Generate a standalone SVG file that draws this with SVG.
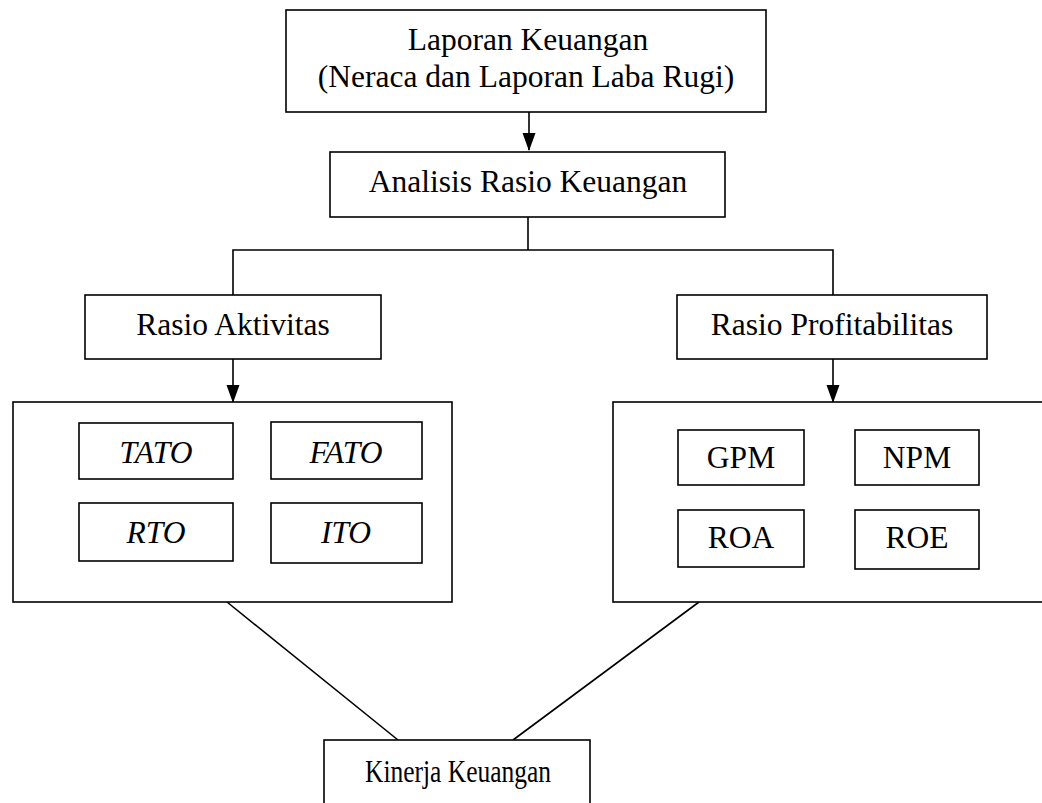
<svg xmlns="http://www.w3.org/2000/svg" width="1042" height="803" viewBox="0 0 1042 803">
<style>
rect{fill:#fff;stroke:#000;stroke-width:1.6}
text{font-family:"Liberation Serif","Times New Roman",serif;font-size:31.5px;fill:#000;text-anchor:middle}
.it{font-style:italic}
.c{fill:none;stroke:#000;stroke-width:1.6}
</style>
<g id="connectors">
<line class="c" x1="529" y1="112" x2="529" y2="150"/>
<path d="M522.5,133 L535.5,133 L529,151 Z" fill="#000"/>
<path class="c" d="M528,217 V250 M233,295 V250 H833 V295"/>
<line class="c" x1="233" y1="359" x2="233" y2="402"/>
<path d="M226.5,385 L239.5,385 L233,403 Z" fill="#000"/>
<line class="c" x1="833" y1="359" x2="833" y2="402"/>
<path d="M826.5,385 L839.5,385 L833,403 Z" fill="#000"/>
<line class="c" x1="227" y1="602" x2="398" y2="740"/>
<line class="c" x1="699" y1="602" x2="513" y2="740"/>
</g>
<g id="laporan">
<rect x="286" y="10" width="480" height="102"/>
<text x="528" y="50">Laporan Keuangan</text>
<text x="526" y="87">(Neraca dan Laporan Laba Rugi)</text>
</g>
<g id="analisis">
<rect x="330" y="152" width="395" height="65"/>
<text x="528" y="192">Analisis Rasio Keuangan</text>
</g>
<g id="aktivitas">
<rect x="85" y="295" width="296" height="64"/>
<text x="233" y="335">Rasio Aktivitas</text>
</g>
<g id="profitabilitas">
<rect x="677" y="295" width="310" height="64"/>
<text x="832" y="335">Rasio Profitabilitas</text>
</g>
<g id="aktivitas-group">
<rect x="13" y="402" width="439" height="200"/>
<g id="tato"><rect x="79" y="423" width="154" height="56"/><text class="it" x="156" y="463">TATO</text></g>
<g id="fato"><rect x="271" y="422" width="151" height="57"/><text class="it" x="346" y="463">FATO</text></g>
<g id="rto"><rect x="79" y="503" width="154" height="58"/><text class="it" x="156" y="543">RTO</text></g>
<g id="ito"><rect x="271" y="503" width="151" height="60"/><text class="it" x="346" y="543">ITO</text></g>
</g>
<g id="profitabilitas-group">
<rect x="613" y="402" width="440" height="200"/>
<g id="gpm"><rect x="678" y="430" width="126" height="55"/><text x="741" y="468">GPM</text></g>
<g id="npm"><rect x="855" y="430" width="124" height="55"/><text x="917" y="468">NPM</text></g>
<g id="roa"><rect x="678" y="510" width="126" height="57"/><text x="741" y="548">ROA</text></g>
<g id="roe"><rect x="855" y="510" width="124" height="59"/><text x="917" y="548">ROE</text></g>
</g>
<g id="kinerja">
<rect x="324" y="740" width="266" height="80"/>
<text x="458" y="782" textLength="186" lengthAdjust="spacingAndGlyphs">Kinerja Keuangan</text>
</g>
</svg>
